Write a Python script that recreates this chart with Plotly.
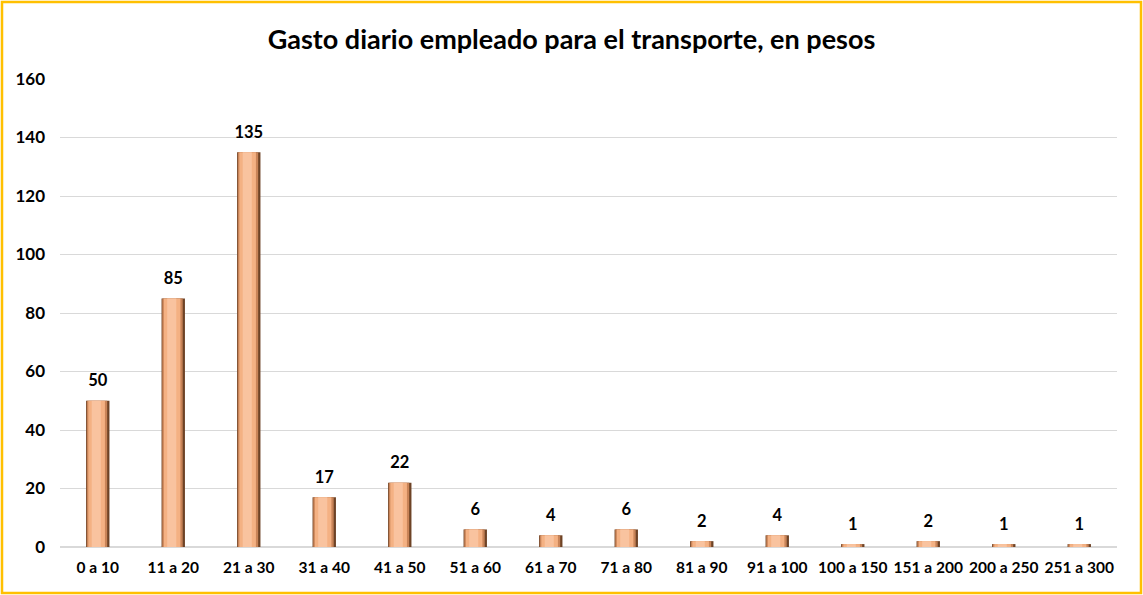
import plotly.graph_objects as go

categories = ["0 a 10", "11 a 20", "21 a 30", "31 a 40", "41 a 50", "51 a 60", "61 a 70",
              "71 a 80", "81 a 90", "91 a 100", "100 a 150", "151 a 200", "200 a 250", "251 a 300"]
values = [50, 85, 135, 17, 22, 6, 4, 6, 2, 4, 1, 2, 1, 1]
y_ticks = [0, 20, 40, 60, 80, 100, 120, 140, 160]

FONT = "Lato"
W, H = 1143, 595
L, R, T, B = 60, 26, 79, 48
pw, ph = W - L - R, H - T - B

fig = go.Figure()
# dark bevel shell
fig.add_trace(go.Bar(x=categories, y=values, width=0.31, marker=dict(color="#6e4326", line=dict(width=0)),
                     hoverinfo="skip", showlegend=False))
# mid tone
fig.add_trace(go.Bar(x=categories, y=values, width=0.27, offset=-0.145, marker=dict(color="#c98458", line=dict(width=0)),
                     hoverinfo="skip", showlegend=False))
# main face
fig.add_trace(go.Bar(x=categories, y=values, width=0.22, offset=-0.125, marker=dict(color="#f4b183", line=dict(width=0)),
                     hoverinfo="skip", showlegend=False))
# highlight
fig.add_trace(go.Bar(x=categories, y=values, width=0.12, offset=-0.08, marker=dict(color="#f9c39f", line=dict(width=0)),
                     showlegend=False, hoverinfo="skip"))
# data labels
fig.add_trace(go.Scatter(x=categories, y=values, mode="markers+text", text=values,
                         texttemplate="%{text}", textposition="top center", cliponaxis=False,
                         marker=dict(size=15, opacity=0), hoverinfo="skip", showlegend=False,
                         textfont=dict(family=FONT, size=16.5, color="#000000", weight="bold")))

fig.update_layout(
    barmode="overlay",
    width=W, height=H,
    margin=dict(l=L, r=R, t=T, b=B, autoexpand=False),
    paper_bgcolor="white", plot_bgcolor="white",
    font=dict(family=FONT, color="#000000"),
    title=dict(text="Gasto diario empleado para el transporte, en pesos",
               x=0.5, xanchor="center", y=1 - 40 / H, yanchor="middle",
               font=dict(family=FONT, size=27, color="#000000", weight="bold")),
    xaxis=dict(tickfont=dict(family=FONT, size=15.5, color="#000000", weight="bold"), showgrid=False,
               showline=False, ticks="", ticklabelstandoff=9, tickangle=0, automargin=False,
               range=[-0.5, len(categories) - 0.5]),
    yaxis=dict(range=[0, 160], tickvals=y_ticks,
               tickfont=dict(family=FONT, size=17, color="#000000", weight="bold"),
               gridcolor="#d9d9d9", gridwidth=1, zeroline=True, zerolinecolor="#d9d9d9",
               showline=False, ticks="", ticklabelstandoff=14, automargin=False),
    shapes=[dict(type="rect", xref="paper", yref="paper",
                 x0=(2 - L) / pw, x1=(W - 2 - L) / pw,
                 y0=(H - B - (H - 2)) / ph, y1=(H - B - 2) / ph,
                 line=dict(color="#ffc000", width=2.5), fillcolor="rgba(0,0,0,0)", layer="below")],
)

fig.write_html("out.html", config={"displayModeBar": False},
               post_script="document.body.style.margin='0';document.body.style.overflow='hidden';")
